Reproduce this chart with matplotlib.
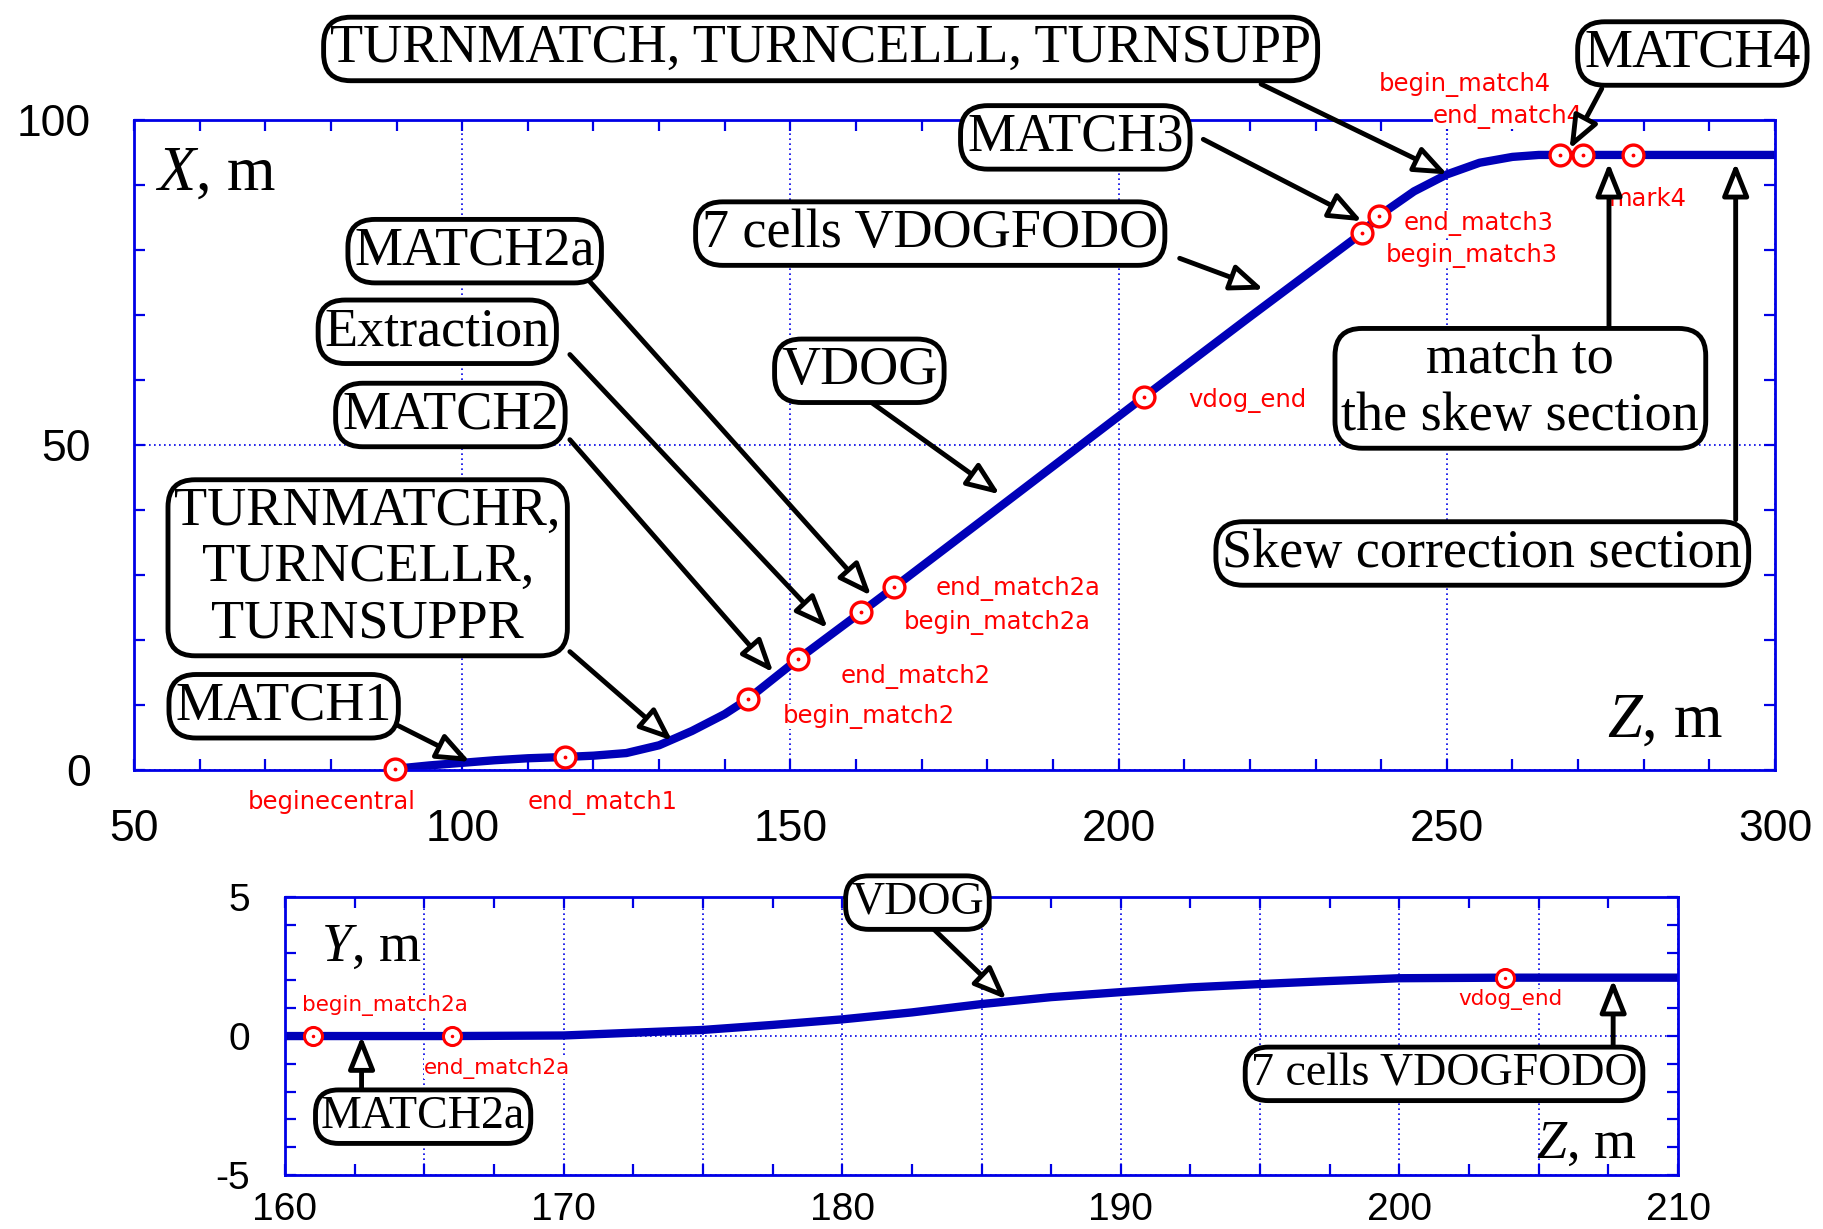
import matplotlib
matplotlib.use('Agg')
import matplotlib.pyplot as plt
from matplotlib.ticker import MultipleLocator, FuncFormatter

# top panel: X(Z) of the beam line
z_top = [90, 95, 100, 105, 110, 115.7, 120, 125, 130, 135, 140, 143.5, 151.1, 160.8, 165.8,
         180, 203.9, 220, 237.1, 239.6, 245, 250, 255, 260, 264, 267.2, 270.8, 278.4, 300]
x_top = [0.2, 0.7, 1.1, 1.5, 1.8, 2.0, 2.2, 2.6, 3.8, 6.0, 8.6, 10.9, 17.0, 24.3, 28.1,
         39.0, 57.4, 69.7, 82.6, 85.2, 89.0, 91.6, 93.4, 94.3, 94.6, 94.6, 94.6, 94.6, 94.6]

mark_names_top = ['beginecentral', 'end_match1', 'begin_match2', 'end_match2', 'begin_match2a',
                  'end_match2a', 'vdog_end', 'begin_match3', 'end_match3', 'begin_match4',
                  'end_match4', 'mark4']
mark_z_top = [89.7, 115.7, 143.5, 151.1, 160.8, 165.8, 203.9, 237.1, 239.6, 267.2, 270.8, 278.4]
mark_x_top = [0.2, 2.0, 10.9, 17.0, 24.3, 28.1, 57.4, 82.6, 85.2, 94.6, 94.6, 94.6]

# bottom panel: Y(Z)
z_bot = [160, 161, 166, 170, 172.5, 175, 177.5, 180, 182.5, 185, 187.5, 190, 192.5, 195,
         197.5, 200, 203.8, 210]
y_bot = [0, 0, 0, 0.02, 0.12, 0.22, 0.4, 0.6, 0.85, 1.15, 1.4, 1.58, 1.75, 1.87,
         1.98, 2.08, 2.1, 2.1]

mark_names_bot = ['begin_match2a', 'end_match2a', 'vdog_end']
mark_z_bot = [161.0, 166.0, 203.8]
mark_y_bot = [0, 0, 2.1]

BLUE = '#0000e6'
LINE = '#0000b8'
SERIF = 'Liberation Serif'

plt.rcParams['mathtext.fontset'] = 'custom'
plt.rcParams['mathtext.it'] = 'Liberation Serif:italic'
plt.rcParams['mathtext.rm'] = 'Liberation Serif'
plt.rcParams['font.family'] = ['Liberation Sans', 'DejaVu Sans']
plt.rcParams['axes.unicode_minus'] = False

fig = plt.figure(figsize=(18.23, 12.29), dpi=100)
ax1 = fig.add_axes([0.0735, 0.3735, 0.9002, 0.529])
ax2 = fig.add_axes([0.1563, 0.0439, 0.7642, 0.2262])


def style_axes(ax, labelsize, xpad, ypad):
    for s in ax.spines.values():
        s.set_color(BLUE)
        s.set_linewidth(2)
    ax.tick_params(which='both', direction='in', top=True, right=True, color=BLUE,
                   length=8, width=1.6)
    ax.tick_params(axis='x', which='major', labelsize=labelsize, pad=xpad)
    ax.tick_params(axis='y', which='major', labelsize=labelsize, pad=ypad)
    ax.grid(True, which='major', color=BLUE, linestyle=(0, (1, 2)), linewidth=1.2)


def box(ax, text, pos, size):
    ax.text(pos[0], pos[1], text, ha='center', va='center', fontsize=size, family=SERIF,
            zorder=6, multialignment='center', linespacing=1.15,
            bbox=dict(boxstyle='round,pad=0.12,rounding_size=0.5', fc='white', ec='black', lw=3.5))


def arrow(ax, start, tip):
    ax.annotate('', xy=tip, xytext=start, annotation_clip=False, zorder=5,
                arrowprops=dict(arrowstyle='-|>,head_length=2.0,head_width=0.8', mutation_scale=10,
                                lw=3.5, fc='white', ec='black', shrinkA=0, shrinkB=0))


def red_label(ax, text, pos, size, ha='center'):
    ax.text(pos[0], pos[1], text, ha=ha, va='center', fontsize=size, color='red',
            family='DejaVu Sans', zorder=4,
            bbox=dict(fc='white', ec='none', pad=0))


# ---- top panel ----
ax1.plot(z_top, x_top, color=LINE, lw=6, solid_capstyle='butt', zorder=2)
ax1.plot(mark_z_top, mark_x_top, 'o', ms=15, mfc='white', mec='red', mew=2.4, zorder=3, clip_on=False)
ax1.plot(mark_z_top, mark_x_top, '.', ms=3.5, color='red', zorder=3, clip_on=False)
ax1.set_xlim(50, 300)
ax1.set_ylim(0, 100)
ax1.xaxis.set_major_locator(MultipleLocator(50))
ax1.xaxis.set_minor_locator(MultipleLocator(10))
ax1.yaxis.set_major_locator(MultipleLocator(50))
ax1.yaxis.set_minor_locator(MultipleLocator(10))
style_axes(ax1, 32, 28, 31)

top_label_pos = [(80.1, -5.0), (121.4, -5.0), (161.9, 8.2), (169.0, 14.3), (181.5, 22.7),
                 (184.7, 27.9), (219.6, 56.9), (253.8, 79.2), (254.8, 84.1), (252.7, 105.5),
                 (259.3, 100.5), (274.6, 87.8)]
order = [0, 1, 2, 3, 4, 5, 6, 8, 7, 9, 10, 11]
for i in order:
    ha = 'left' if mark_names_top[i] == 'mark4' else 'center'
    red_label(ax1, mark_names_top[i], top_label_pos[i], 17.5, ha)

ax1.text(62.4, 91.6, r'$X$, m', fontsize=45, family=SERIF, ha='center', va='center')
ax1.text(283.2, 7.5, r'$Z$, m', fontsize=45, family=SERIF, ha='center', va='center')

top_boxes = [
    ('TURNMATCH, TURNCELLL, TURNSUPP', (154.6, 110.9), (221.7, 105.5), (250.1, 91.6)),
    ('MATCH3', (193.4, 97.3), (212.9, 97.0), (237.1, 84.4)),
    ('MATCH4', (287.4, 110.2), (273.6, 104.8), (268.7, 95.5)),
    ('7 cells VDOGFODO', (171.3, 82.5), (209.3, 78.7), (222.1, 73.9)),
    ('MATCH2a', (101.9, 79.8), (119.1, 75.5), (162.3, 26.8)),
    ('Extraction', (96.2, 67.4), (116.4, 63.9), (155.7, 21.8)),
    ('VDOG', (160.5, 61.4), (162.1, 56.7), (181.9, 42.4)),
    ('MATCH2', (98.2, 54.6), (116.4, 50.8), (147.4, 15.0)),
    ('TURNMATCHR,\nTURNCELLR,\nTURNSUPPR', (85.6, 31.1), (116.4, 18.2), (132.0, 4.5)),
    ('MATCH1', (72.8, 9.8), (89.5, 7.2), (101.2, 1.25)),
    ('match to\nthe skew section', (261.2, 58.7), (274.7, 68.3), (274.7, 93.4)),
    ('Skew correction section', (255.4, 33.3), (294.0, 38.5), (294.0, 93.4)),
]
for text, pos, start, tip in top_boxes:
    arrow(ax1, start, tip)
    box(ax1, text, pos, 39)

# ---- bottom panel ----
ax2.plot(z_bot, y_bot, color=LINE, lw=6, solid_capstyle='butt', zorder=2)
ax2.plot(mark_z_bot, mark_y_bot, 'o', ms=13, mfc='white', mec='red', mew=2.2, zorder=3)
ax2.plot(mark_z_bot, mark_y_bot, '.', ms=3, color='red', zorder=3)
ax2.set_xlim(160, 210)
ax2.set_ylim(-5, 5)
ax2.xaxis.set_major_locator(MultipleLocator(5))
ax2.xaxis.set_minor_locator(MultipleLocator(2.5))
ax2.xaxis.set_major_formatter(FuncFormatter(lambda v, p: '%d' % v if round(v) % 10 == 0 else ''))
ax2.yaxis.set_major_locator(MultipleLocator(5))
ax2.yaxis.set_minor_locator(MultipleLocator(1))
style_axes(ax2, 28, 12, 25)

bot_label_pos = [(163.6, 1.1), (167.6, -1.15), (204.0, 1.3)]
for name, pos in zip(mark_names_bot, bot_label_pos):
    red_label(ax2, name, pos, 15.5)

ax2.text(163.1, 3.2, r'$Y$, m', fontsize=39, family=SERIF, ha='center', va='center')
ax2.text(206.7, -3.9, r'$Z$, m', fontsize=39, family=SERIF, ha='center', va='center')

bot_boxes = [
    ('VDOG', (182.7, 4.8), (183.3, 3.83), (185.9, 1.32)),
    ('MATCH2a', (164.96, -2.9), (162.75, -1.95), (162.75, 0.0)),
    ('7 cells VDOGFODO', (201.6, -1.36), (207.67, -0.36), (207.67, 2.03)),
]
for text, pos, start, tip in bot_boxes:
    arrow(ax2, start, tip)
    box(ax2, text, pos, 33)

fig.savefig('out.png', dpi=100)
